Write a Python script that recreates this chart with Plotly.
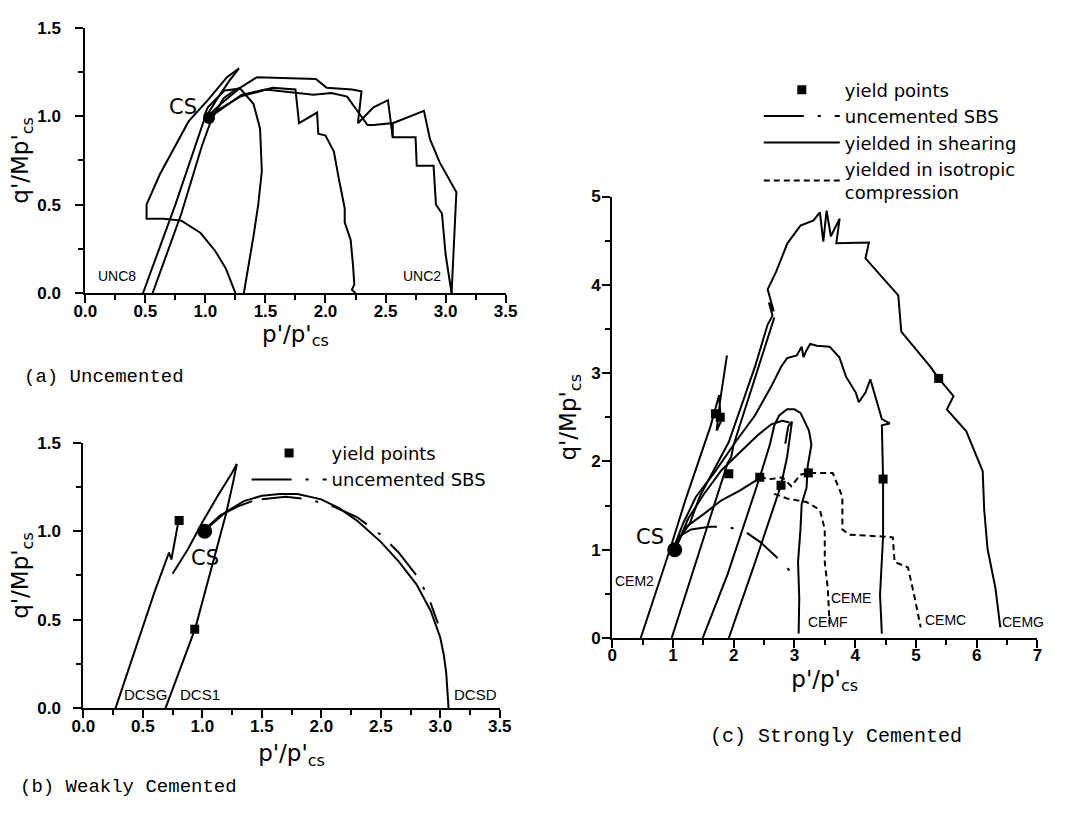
import plotly.graph_objects as go

# ---------------- Panel (a) Uncemented ----------------
a_unc8_p = [0.48, 0.75, 0.99, 1.10, 1.20, 1.28, 1.18, 1.02, 0.86, 0.75, 0.62, 0.51, 0.51, 0.65, 0.80, 0.96, 1.08, 1.17, 1.25]
a_unc8_q = [0.00, 0.50, 0.98, 1.10, 1.20, 1.27, 1.22, 1.09, 0.97, 0.83, 0.67, 0.50, 0.42, 0.42, 0.41, 0.34, 0.24, 0.14, 0.00]
a_l2_p = [0.56, 0.80, 0.97, 1.02, 1.05, 1.15, 1.25, 1.29]
a_l2_q = [0.00, 0.45, 0.83, 0.93, 0.98, 1.10, 1.15, 1.16]
a_c3_p = [0.99, 1.02, 1.16, 1.29, 1.40, 1.455, 1.47, 1.44, 1.40, 1.36, 1.32]
a_c3_q = [1.00, 1.05, 1.145, 1.155, 1.07, 0.93, 0.69, 0.50, 0.32, 0.15, 0.00]
a_c4_p = [0.99, 1.07, 1.29, 1.56, 1.75, 1.78, 1.93, 1.94, 2.00, 2.07, 2.11, 2.16, 2.16, 2.21, 2.23, 2.24, 2.22, 2.25]
a_c4_q = [0.98, 1.02, 1.11, 1.16, 1.15, 0.96, 1.02, 0.90, 0.89, 0.80, 0.65, 0.48, 0.40, 0.30, 0.15, 0.05, 0.02, 0.00]
a_unc2a_p = [1.02, 1.13, 1.29, 1.43, 1.92, 2.01, 2.22, 2.30, 2.27, 2.40, 2.52, 2.56, 2.56, 2.82, 2.87, 2.95, 3.09, 3.07, 3.05]
a_unc2a_q = [1.00, 1.07, 1.16, 1.22, 1.21, 1.16, 1.15, 1.14, 0.96, 1.05, 1.09, 0.88, 0.96, 1.03, 0.87, 0.74, 0.57, 0.32, 0.00]
a_unc2b_p = [1.05, 1.30, 1.50, 1.75, 1.90, 2.05, 2.18, 2.35, 2.40, 2.55, 2.56, 2.75, 2.76, 2.90, 2.92, 2.97, 3.00, 3.05]
a_unc2b_q = [1.00, 1.12, 1.15, 1.13, 1.12, 1.13, 1.11, 0.95, 0.95, 0.96, 0.88, 0.88, 0.72, 0.72, 0.50, 0.45, 0.22, 0.00]
a_cs = (1.03, 0.99)

# ---------------- Panel (b) Weakly cemented ----------------
b_dcsg_p = [0.27, 0.60, 0.72, 0.74, 0.80]
b_dcsg_q = [0.00, 0.66, 0.88, 0.84, 1.06]
b_dcs1_p = [0.69, 0.94, 1.10, 1.20, 1.26, 1.29, 1.25, 1.13, 1.00, 0.88, 0.75]
b_dcs1_q = [0.00, 0.45, 0.85, 1.10, 1.28, 1.38, 1.33, 1.20, 1.05, 0.90, 0.76]
b_dcsd_p = [1.02, 1.08, 1.20, 1.35, 1.50, 1.65, 1.80, 2.00, 2.15, 2.30, 2.50, 2.65, 2.80, 2.92, 3.00, 3.03, 3.05, 3.06, 3.07]
b_dcsd_q = [1.00, 1.04, 1.11, 1.17, 1.20, 1.21, 1.21, 1.18, 1.13, 1.06, 0.94, 0.83, 0.70, 0.55, 0.40, 0.30, 0.20, 0.10, 0.00]
b_cs2_p = [1.02, 1.15, 1.30, 1.42]
b_cs2_q = [1.01, 1.09, 1.14, 1.17]
b_sbs_p = [1.50, 1.70, 1.90, 2.10, 2.30, 2.50, 2.65, 2.80, 2.90, 2.98]
b_sbs_q = [1.18, 1.195, 1.18, 1.14, 1.08, 0.98, 0.88, 0.75, 0.63, 0.48]
b_yield_p = [0.805, 0.936]
b_yield_q = [1.06, 0.447]
b_cs = (1.02, 1.0)

# ---------------- Panel (c) Strongly cemented ----------------
c_cem2_p = [0.47, 0.95, 1.20, 1.45, 1.62, 1.70, 1.76, 1.79, 1.72, 1.78, 1.89]
c_cem2_q = [0.00, 1.00, 1.55, 2.05, 2.40, 2.60, 2.75, 2.45, 2.35, 2.70, 3.20]
c_l2_p = [0.98, 1.50, 1.90, 1.96, 2.00, 2.40, 2.67]
c_l2_q = [0.00, 1.12, 1.98, 2.05, 2.19, 3.05, 3.63]
c_l3_p = [1.49, 1.90, 2.43, 2.60, 2.67, 2.75, 2.88, 3.00, 3.10, 3.24, 3.28, 3.22, 3.20, 3.12, 3.10, 3.06, 3.08, 3.07]
c_l3_q = [0.00, 0.72, 1.82, 2.20, 2.41, 2.52, 2.59, 2.59, 2.55, 2.35, 2.19, 1.95, 1.70, 1.52, 1.23, 0.86, 0.45, 0.05]
c_l4_p = [1.92, 2.35, 2.78, 2.88, 2.93, 2.96, 2.90, 2.85]
c_l4_q = [0.00, 0.85, 1.73, 2.05, 2.30, 2.45, 2.40, 2.20]
c_cs3_p = [1.03, 1.20, 1.50, 1.80, 2.10, 2.43]
c_cs3_q = [1.00, 1.25, 1.40, 1.56, 1.67, 1.81]
c_cs4_p = [1.05, 1.25, 1.50, 1.80, 2.10, 2.40, 2.62, 2.80, 2.92]
c_cs4_q = [1.02, 1.35, 1.62, 1.90, 2.10, 2.30, 2.42, 2.46, 2.44]
c_x_p = [1.00, 1.17, 1.38, 1.70, 2.03, 2.35, 2.62, 2.78, 2.88, 3.04, 3.12, 3.15, 3.20, 3.26, 3.37, 3.58, 3.74, 3.85, 4.01, 4.06, 4.17, 4.25, 4.44, 4.57, 4.44, 4.46, 4.46, 4.44, 4.41, 4.44]
c_x_q = [1.00, 1.30, 1.60, 1.89, 2.22, 2.52, 2.85, 3.07, 3.17, 3.20, 3.30, 3.18, 3.26, 3.33, 3.31, 3.30, 3.18, 2.96, 2.78, 2.67, 2.78, 2.93, 2.48, 2.43, 2.41, 1.80, 1.15, 0.86, 0.49, 0.05]
c_g_p = [1.06, 1.28, 1.44, 1.92, 2.35, 2.56, 2.64, 2.58, 2.66, 2.56, 2.70, 2.885, 3.10, 3.315, 3.42, 3.476, 3.53, 3.60, 3.745, 3.69, 4.227, 4.17, 4.71, 4.76, 5.24, 5.375, 5.62, 5.51, 5.83, 6.10, 6.125, 6.18, 6.31, 6.39]
c_g_q = [1.08, 1.30, 1.60, 2.22, 3.07, 3.55, 3.65, 3.80, 3.70, 3.95, 4.15, 4.47, 4.67, 4.73, 4.82, 4.49, 4.84, 4.55, 4.75, 4.47, 4.48, 4.30, 3.88, 3.47, 3.07, 2.94, 2.74, 2.59, 2.34, 1.89, 1.45, 1.01, 0.565, 0.12]
c_ceme_p = [2.78, 2.68, 2.88, 3.20, 3.42, 3.50, 3.50, 3.55, 3.58]
c_ceme_q = [1.73, 1.63, 1.58, 1.54, 1.45, 1.23, 0.86, 0.56, 0.16]
c_cemc_p = [2.43, 2.62, 2.80, 2.95, 3.10, 3.23, 3.63, 3.79, 3.79, 3.90, 4.44, 4.62, 4.65, 4.87, 4.97, 5.08]
c_cemc_q = [1.82, 1.80, 1.82, 1.72, 1.85, 1.87, 1.87, 1.60, 1.23, 1.17, 1.15, 1.14, 0.86, 0.80, 0.49, 0.12]
c_sbs_p = [1.10, 1.30, 1.60, 1.90, 2.20, 2.45, 2.70, 2.94, 3.00]
c_sbs_q = [1.15, 1.23, 1.26, 1.26, 1.20, 1.08, 0.92, 0.75, 0.62]
c_yield_p = [1.70, 1.78, 1.92, 2.43, 2.78, 3.23, 4.46, 5.375]
c_yield_q = [2.54, 2.50, 1.86, 1.82, 1.73, 1.87, 1.80, 2.94]
c_cs = (1.03, 1.0)

# ---------------- Labels ----------------
a_labels = [("UNC8", 0.26, 0.10), ("UNC2", 2.80, 0.10)]
b_labels = [("DCSG", 0.52, 0.08), ("DCS1", 0.98, 0.08), ("DCSD", 3.30, 0.08)]
c_labels = [("CEM2", 0.36, 0.64), ("CEME", 3.93, 0.45), ("CEMF", 3.55, 0.18), ("CEMC", 5.48, 0.20), ("CEMG", 6.77, 0.18)]

BLACK = "black"
DASHDOT = "40px,14px,3px,14px"
fig = go.Figure()


def line(px, py, ax, dash="solid", name=None, legend=None, show=False, width=2):
    kw = dict(x=px, y=py, mode="lines", line=dict(color=BLACK, width=width, dash=dash),
              xaxis="x" + ax, yaxis="y" + ax, showlegend=show, hoverinfo="skip")
    if name:
        kw["name"] = name
    if legend:
        kw["legend"] = legend
    fig.add_trace(go.Scatter(**kw))


# panel a
for px, py in [(a_unc8_p, a_unc8_q), (a_l2_p, a_l2_q), (a_c3_p, a_c3_q), (a_c4_p, a_c4_q),
               (a_unc2a_p, a_unc2a_q), (a_unc2b_p, a_unc2b_q)]:
    line(px, py, "")
fig.add_trace(go.Scatter(x=[a_cs[0]], y=[a_cs[1]], mode="markers", marker=dict(color=BLACK, size=12),
                         xaxis="x", yaxis="y", showlegend=False))

# panel b
for px, py in [(b_dcsg_p, b_dcsg_q), (b_dcs1_p, b_dcs1_q), (b_dcsd_p, b_dcsd_q), (b_cs2_p, b_cs2_q)]:
    line(px, py, "2")
fig.add_trace(go.Scatter(x=b_yield_p, y=b_yield_q, mode="markers", name="yield points",
                         marker=dict(color=BLACK, size=9, symbol="square"),
                         xaxis="x2", yaxis="y2", showlegend=True, legend="legend"))
line(b_sbs_p, b_sbs_q, "2", dash=DASHDOT, name="uncemented SBS", legend="legend", show=True)
fig.add_trace(go.Scatter(x=[b_cs[0]], y=[b_cs[1]], mode="markers", marker=dict(color=BLACK, size=15),
                         xaxis="x2", yaxis="y2", showlegend=False))

# panel c
fig.add_trace(go.Scatter(x=c_yield_p, y=c_yield_q, mode="markers", name="yield points",
                         marker=dict(color=BLACK, size=9, symbol="square"),
                         xaxis="x3", yaxis="y3", showlegend=True, legend="legend2"))
line(c_sbs_p, c_sbs_q, "3", dash=DASHDOT, name="uncemented SBS", legend="legend2", show=True)
line(c_g_p, c_g_q, "3", name="yielded in shearing", legend="legend2", show=True)
line(c_cemc_p, c_cemc_q, "3", dash="6px,4px", name="yielded in isotropic<br>compression", legend="legend2", show=True)
line(c_ceme_p, c_ceme_q, "3", dash="6px,4px")
for px, py in [(c_cem2_p, c_cem2_q), (c_l2_p, c_l2_q), (c_l3_p, c_l3_q), (c_l4_p, c_l4_q),
               (c_cs3_p, c_cs3_q), (c_cs4_p, c_cs4_q), (c_x_p, c_x_q)]:
    line(px, py, "3")
fig.add_trace(go.Scatter(x=[c_cs[0]], y=[c_cs[1]], mode="markers", marker=dict(color=BLACK, size=15),
                         xaxis="x3", yaxis="y3", showlegend=False))

FONT = "Liberation Sans"
TFONT = "DejaVu Sans"
MONO = "Liberation Mono"
tickfont = dict(family=FONT, size=17, color=BLACK, weight="bold")
xtitle = "p'/p'<sub>cs</sub>"
ytitle = "q'/Mp'<sub>cs</sub>"


def axis(domain, rng, dtick, minor, fmt, title, anchor, standoff, lstand):
    return dict(domain=domain, range=rng, dtick=dtick, tick0=0, tickformat=fmt,
                showline=True, linecolor=BLACK, linewidth=2, ticks="outside", ticklen=8,
                tickwidth=2, tickcolor=BLACK, showgrid=False, zeroline=False, mirror=False,
                minor=dict(ticks="outside", ticklen=5, tickwidth=1.5, tickcolor=BLACK, dtick=minor, tick0=0),
                tickfont=tickfont, anchor=anchor, ticklabelstandoff=lstand,
                title=dict(text=title, font=dict(family=TFONT, size=23, color=BLACK), standoff=standoff))


W, H = 1065, 816
fx = lambda a, b: [a / W, b / W]
fy = lambda top, bot: [1 - bot / H, 1 - top / H]

layout = dict(
    width=W, height=H, margin=dict(l=0, r=0, t=0, b=0),
    paper_bgcolor="white", plot_bgcolor="white",
    xaxis=axis(fx(75, 505), [0, 3.5], 0.5, 0.25, ".1f", xtitle, "y", 0, -7),
    yaxis=axis(fy(19, 291), [0, 1.5], 0.5, 0.25, ".1f", ytitle, "x", 0, 11),
    xaxis2=axis(fx(73, 499), [0, 3.5], 0.5, 0.25, ".1f", xtitle, "y2", 10, -7),
    yaxis2=axis(fy(444, 716), [0, 1.5], 0.5, 0.25, ".1f", ytitle, "x2", 0, 9),
    xaxis3=axis(fx(614, 1049), [0, 7], 1, 0.5, "d", xtitle, "y3", 6, -7),
    yaxis3=axis(fy(192, 644), [0, 5], 1, 0.5, "d", ytitle, "x3", 8, -2),
    legend=dict(x=240 / W, y=1 - 436 / H, xanchor="left", yanchor="top", bgcolor="rgba(0,0,0,0)",
                font=dict(family=TFONT, size=18, color=BLACK), itemwidth=75, tracegroupgap=0),
    legend2=dict(x=764 / W, y=1 - 64 / H, xanchor="left", yanchor="top", bgcolor="rgba(0,0,0,0)",
                 font=dict(family=TFONT, size=18, color=BLACK), itemwidth=76, tracegroupgap=0),
    showlegend=True,
)
fig.update_layout(**layout)

ann = []
for t, x, y in a_labels:
    ann.append(dict(text=t, x=x, y=y, xref="x", yref="y", showarrow=False,
                    font=dict(family=FONT, size=14, color=BLACK)))
for t, x, y in b_labels:
    ann.append(dict(text=t, x=x, y=y, xref="x2", yref="y2", showarrow=False,
                    font=dict(family=FONT, size=15, color=BLACK)))
for t, x, y in c_labels:
    ann.append(dict(text=t, x=x, y=y, xref="x3", yref="y3", showarrow=False,
                    font=dict(family=FONT, size=14, color=BLACK)))
ann.append(dict(text="CS", x=0.81, y=1.05, xref="x", yref="y", showarrow=False,
                font=dict(family=TFONT, size=21, color=BLACK)))
ann.append(dict(text="CS", x=1.02, y=0.85, xref="x2", yref="y2", showarrow=False,
                font=dict(family=TFONT, size=21, color=BLACK)))
ann.append(dict(text="CS", x=0.63, y=1.14, xref="x3", yref="y3", showarrow=False,
                font=dict(family=TFONT, size=21, color=BLACK)))
ann.append(dict(text="(a) Uncemented", x=10 / W, y=1 - 377 / H, xref="paper", yref="paper",
                xanchor="left", yanchor="middle", showarrow=False,
                font=dict(family=MONO, size=19, color=BLACK)))
ann.append(dict(text="(b) Weakly Cemented", x=6 / W, y=1 - 797 / H, xref="paper", yref="paper",
                xanchor="left", yanchor="middle", showarrow=False,
                font=dict(family=MONO, size=19, color=BLACK)))
ann.append(dict(text="(c) Strongly Cemented", x=712 / W, y=1 - 745 / H, xref="paper", yref="paper",
                xanchor="left", yanchor="middle", showarrow=False,
                font=dict(family=MONO, size=20, color=BLACK)))
fig.update_layout(annotations=ann)

fig.write_html("out.html")
